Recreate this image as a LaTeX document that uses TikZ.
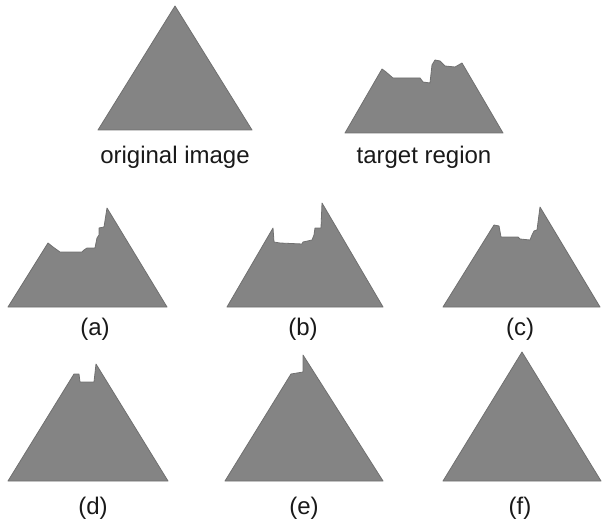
\documentclass[tikz,border=0pt]{standalone}
\usepackage{fontspec}
\setmainfont{Liberation Sans}
\usepackage{tikz}
\definecolor{regiongray}{HTML}{848484}
\definecolor{edgegray}{HTML}{707070}

\begin{document}
\begin{tikzpicture}[x=1pt,y=-1pt,
        region/.style={fill=regiongray,draw=edgegray,line width=0.8pt,line join=round},
        caption/.style={font=\fontsize{24}{28}\selectfont,text=black!90}]
  \useasboundingbox (0,0) rectangle (602,524);
  % top row
  \filldraw[region] (98,130) -- (175,6) -- (252,130) -- cycle;
  \filldraw[region] (345,133) -- (382,69) -- (386,72) -- (393,78) -- (420,78)
      -- (423,82) -- (430,83) -- (432,65) -- (435,60) -- (440,61) -- (445,66)
      -- (455,67) -- (462,63) -- (503,133) -- cycle;
  \node[caption] (orig)   at (175,157) {original image};
  \node[caption] (target) at (424,157) {target region};
  % middle row
  \filldraw[region] (8,307) -- (48,243) -- (53,247) -- (60,252) -- (82,252)
      -- (84,250) -- (87,248) -- (95,248) -- (97,238) -- (99,235) -- (99,228)
      -- (104,227) -- (107,208) -- (167,307) -- cycle;
  \filldraw[region] (227,307) -- (273,228) -- (274,242) -- (280,243) -- (302,244)
      -- (303,242) -- (312,240) -- (314,235) -- (315,228) -- (321,228)
      -- (322,203) -- (383,307) -- cycle;
  \filldraw[region] (443,307) -- (494,225) -- (499,226) -- (501,237) -- (518,237)
      -- (520,239) -- (530,240) -- (532,235) -- (534,231) -- (537,230)
      -- (540,207) -- (600,307) -- cycle;
  \node[caption] (a) at (95,329)  {(a)};
  \node[caption] (b) at (303,329) {(b)};
  \node[caption] (c) at (520,329) {(c)};
  % bottom row
  \filldraw[region] (8,481) -- (74,374) -- (79,374) -- (80,382) -- (94,382)
      -- (96,364) -- (168,481) -- cycle;
  \filldraw[region] (225,481) -- (291,374) -- (303,372) -- (303,355)
      -- (383,481) -- cycle;
  \filldraw[region] (443,481) -- (522,352) -- (601,481) -- cycle;
  \node[caption] (d) at (93,508)  {(d)};
  \node[caption] (e) at (304,508) {(e)};
  \node[caption] (f) at (520,508) {(f)};
\end{tikzpicture}
\end{document}
